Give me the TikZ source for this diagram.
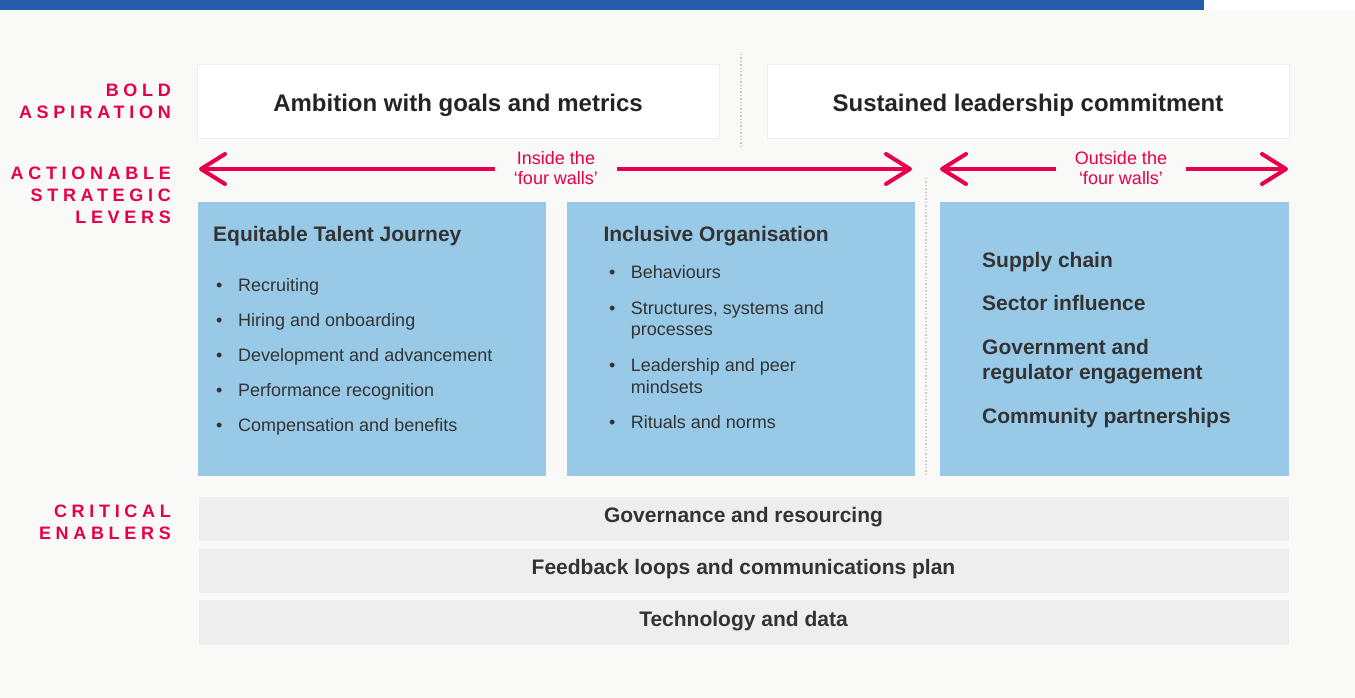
\documentclass[tikz,border=0pt]{standalone}
\usepackage{fontspec}
\setmainfont{Liberation Sans}
\usetikzlibrary{arrows.meta, positioning}

\definecolor{pagebg}{HTML}{F9F9F7}
\definecolor{barblue}{HTML}{255DAA}
\definecolor{hotpink}{HTML}{E6004C}
\definecolor{leverblue}{HTML}{98CAE8}
\definecolor{enablergray}{HTML}{EDEEED}
\definecolor{inktext}{HTML}{333333}
\definecolor{titleink}{HTML}{242424}

\newcommand{\asptitlefont}{\fontsize{24}{28}\selectfont\bfseries}
\newcommand{\leverheadfont}{\fontsize{21}{25.3}\selectfont\bfseries}
\newcommand{\leveritemfont}{\fontsize{18}{21.6}\selectfont}
\newcommand{\walltagfont}{\fontsize{18}{19.5}\selectfont}
\newcommand{\sidetagfont}{\fontsize{18}{21.8}\selectfont\bfseries\addfontfeature{LetterSpace=26}}

\begin{document}
\begin{tikzpicture}[x=1pt, y=-1pt,
	aspbox/.style={draw=black!6, fill=white, line width=1pt},
	leverbox/.style={fill=leverblue},
	enablerbar/.style={draw=black!2, fill=enablergray, line width=1pt},
	sidetag/.style={anchor=base east, align=right, inner sep=0pt, text=hotpink, font=\sidetagfont},
	bigtitle/.style={anchor=base, inner sep=0pt, text=titleink, font=\asptitlefont},
	leverhead/.style={anchor=base west, inner sep=0pt, text=inktext, font=\leverheadfont},
	leveritem/.style={anchor=base west, align=left, inner sep=0pt, text=inktext, font=\leveritemfont},
	outeritem/.style={anchor=base west, align=left, inner sep=0pt, text=inktext, font=\leverheadfont},
	enablertext/.style={anchor=base, inner sep=0pt, text=inktext, font=\leverheadfont},
	walltag/.style={fill=pagebg, align=center, inner xsep=19pt, inner ysep=1pt, text=hotpink, font=\walltagfont},
	wallarrow/.style={draw=hotpink, line width=4pt, >={Straight Barb[round, length=24pt, width=30pt]}, <->},
	divider/.style={draw=black!22, dotted, line width=1.4pt}
]
	\useasboundingbox (0,0) rectangle (1355,698);
	\fill[pagebg] (0,0) rectangle (1355,698);
	\fill[barblue] (0,0) rectangle (1204,10);
	\fill[white] (1204,0) rectangle (1355,10);

	% row labels (base = last line)
	\node[sidetag] (boldtag) at (171,118.3) {BOLD\\ASPIRATION};
	\node[sidetag] (levertag) at (171,223.3) {ACTIONABLE\\STRATEGIC\\LEVERS};
	\node[sidetag] (enablertag) at (171,539.3) {CRITICAL\\ENABLERS};

	% bold aspiration
	\begin{scope}
	\draw[aspbox] (197,65) rectangle (719,139);
	\draw[aspbox] (767,65) rectangle (1289,139);
	\draw[divider] (741,54) -- (741,146);
	\node[bigtitle] (ambition) at (458,112) {Ambition with goals and metrics};
	\node[bigtitle] (commitment) at (1028,112) {Sustained leadership commitment};
	\end{scope}

	% inside / outside arrows
	\coordinate (insideL) at (199,169);
	\coordinate (insideR) at (912,169);
	\coordinate (outsideL) at (940,169);
	\coordinate (outsideR) at (1288,169);
	\draw[wallarrow] (insideL) -- (insideR);
	\draw[wallarrow] (outsideL) -- (outsideR);
	\node[walltag] (insidetag) at (556,168) {Inside the\\‘four walls’};
	\node[walltag] (outsidetag) at (1121,168) {Outside the\\‘four walls’};
	\draw[divider] (926,178) -- (926,476);

	% actionable strategic levers
	\begin{scope}
	\fill[leverbox] (198,202) rectangle (546,476);
	\node[leverhead] (talent) at (213,241.7) {Equitable Talent Journey};
	\node[leveritem] (recruit) at (216,291.5) {\makebox[22pt][l]{•}Recruiting};
	\node[leveritem] (hiring) at (216,326.5) {\makebox[22pt][l]{•}Hiring and onboarding};
	\node[leveritem] (develop) at (216,361.5) {\makebox[22pt][l]{•}Development and advancement};
	\node[leveritem] (perform) at (216,396.5) {\makebox[22pt][l]{•}Performance recognition};
	\node[leveritem] (compens) at (216,431.5) {\makebox[22pt][l]{•}Compensation and benefits};
	\end{scope}

	\begin{scope}
	\fill[leverbox] (567,202) rectangle (915,476);
	\node[leverhead] (inclusive) at (603.3,241.7) {Inclusive Organisation};
	\node[leveritem] (behave) at (609,278.3) {\makebox[21.7pt][l]{•}Behaviours};
	\node[leveritem] (structure) at (609,335.7) {\makebox[21.7pt][l]{•}Structures, systems and\\\hspace*{21.7pt}processes};
	\node[leveritem] (mindset) at (609,393.3) {\makebox[21.7pt][l]{•}Leadership and peer\\\hspace*{21.7pt}mindsets};
	\node[leveritem] (ritual) at (609,428.3) {\makebox[21.7pt][l]{•}Rituals and norms};
	\end{scope}

	\begin{scope}
	\fill[leverbox] (940,202) rectangle (1289,476);
	\node[outeritem] (supply) at (982,267.3) {Supply chain};
	\node[outeritem] (sector) at (982,310.7) {Sector influence};
	\node[outeritem] (govt) at (982,379.3) {Government and\\regulator engagement};
	\node[outeritem] (community) at (982,423.3) {Community partnerships};
	\end{scope}

	% critical enablers
	\draw[enablerbar] (198,496) rectangle (1289,541.7);
	\draw[enablerbar] (198,548) rectangle (1289,593.3);
	\draw[enablerbar] (198,599.5) rectangle (1289,645);
	\node[enablertext] (governance) at (743.5,522.2) {Governance and resourcing};
	\node[enablertext] (feedback) at (743.5,574.2) {Feedback loops and communications plan};
	\node[enablertext] (techdata) at (743.5,626.2) {Technology and data};
\end{tikzpicture}
\end{document}
